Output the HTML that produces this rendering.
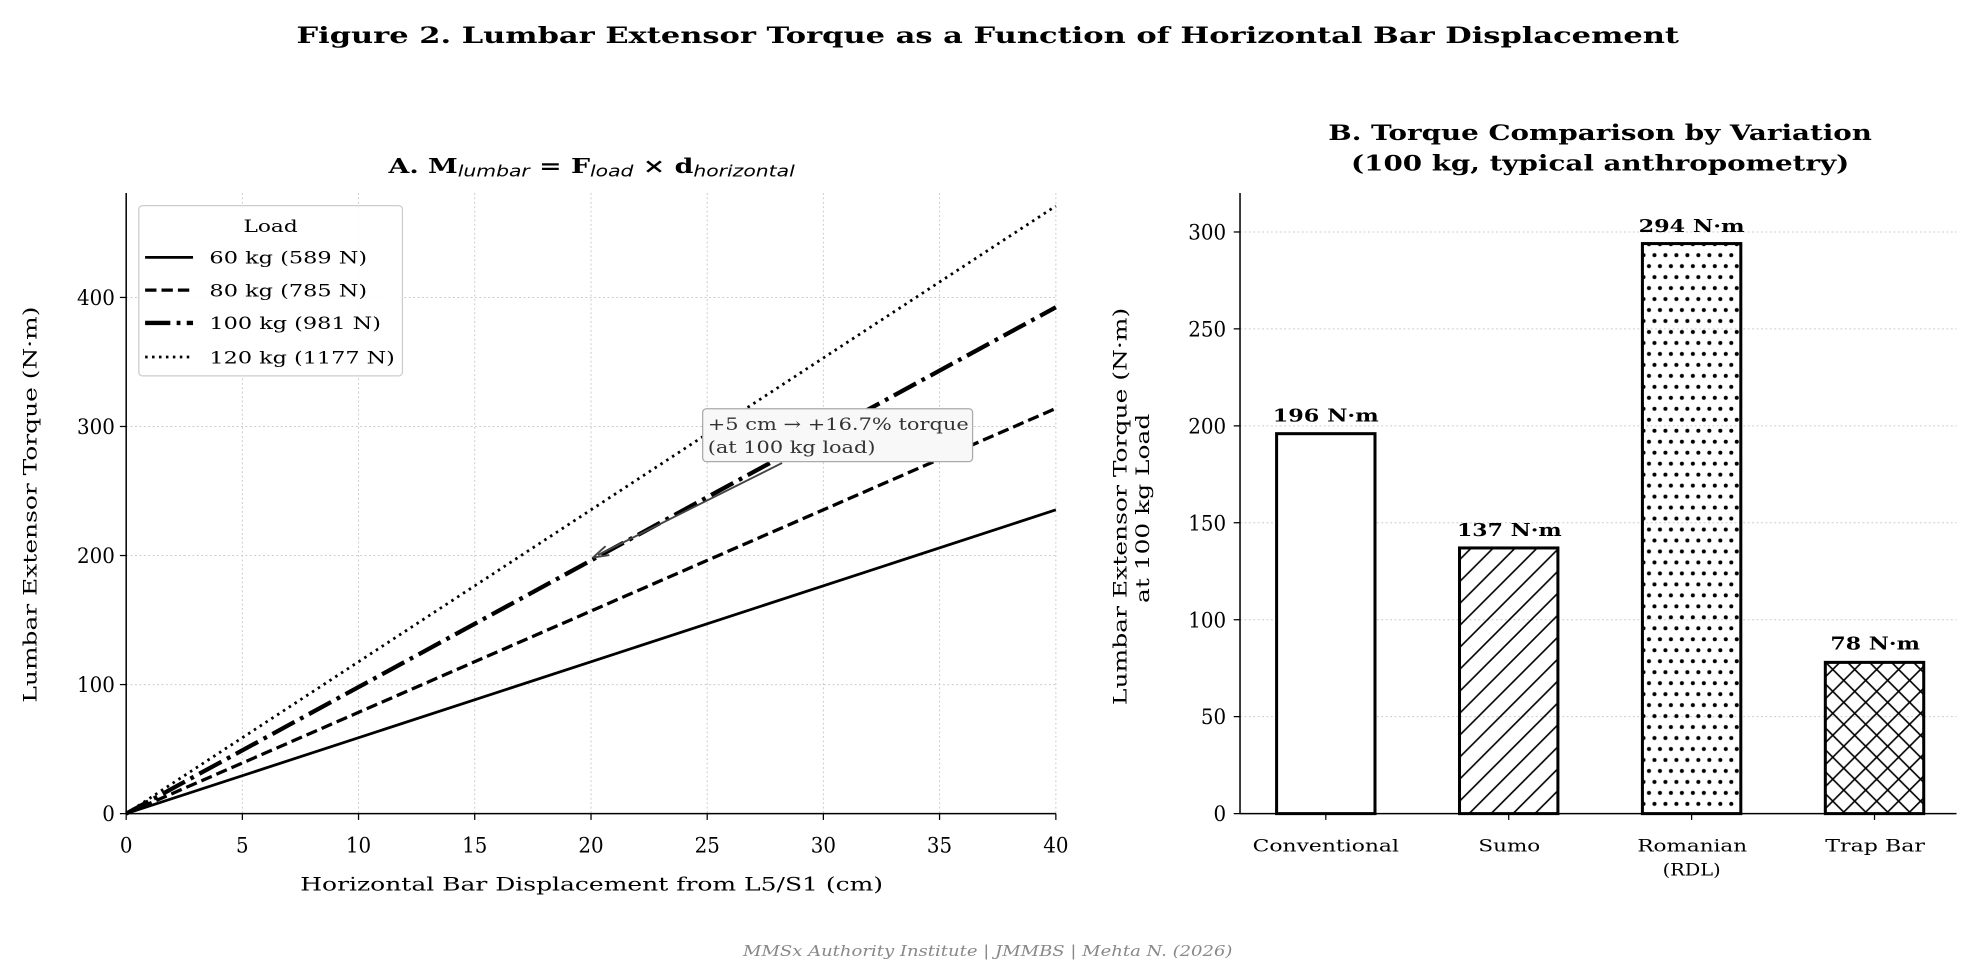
<!DOCTYPE html>
<html><head><meta charset="utf-8"><style>
html,body{margin:0;padding:0;background:#fff}
svg{display:block}
text{font-family:"DejaVu Serif","Liberation Serif",serif;fill:#000}
</style></head><body>
<svg width="1978" height="980" viewBox="0 0 1568 776.9" xmlns="http://www.w3.org/2000/svg">
<defs>
<pattern id="diag" patternUnits="userSpaceOnUse" width="17.4" height="17.4">
<path d="M-2,19.4 L19.4,-2 M-2,2 L2,-2 M15.4,19.4 L19.4,15.4" stroke="#000" stroke-width="1.3"/>
</pattern>
<pattern id="dots" patternUnits="userSpaceOnUse" width="8.7" height="17.4">
<circle cx="2.2" cy="2.2" r="1.6" fill="#000"/>
<circle cx="6.55" cy="10.9" r="1.6" fill="#000"/>
</pattern>
<pattern id="cross" patternUnits="userSpaceOnUse" width="17.4" height="17.4">
<path d="M-2,19.4 L19.4,-2 M-2,-2 L19.4,19.4" stroke="#000" stroke-width="1.3"/>
</pattern>
</defs>
<rect width="1568" height="777" fill="#fff"/>
<text x="235" y="34" font-size="18" font-weight="bold" textLength="1096" lengthAdjust="spacingAndGlyphs">Figure 2. Lumbar Extensor Torque as a Function of Horizontal Bar Displacement</text>

<g stroke="#ccc" stroke-width="0.8" stroke-dasharray="1.5,2">
<line x1="192.1" y1="153" x2="192.1" y2="645"/><line x1="284.2" y1="153" x2="284.2" y2="645"/>
<line x1="376.3" y1="153" x2="376.3" y2="645"/><line x1="468.5" y1="153" x2="468.5" y2="645"/>
<line x1="560.6" y1="153" x2="560.6" y2="645"/><line x1="652.7" y1="153" x2="652.7" y2="645"/>
<line x1="744.8" y1="153" x2="744.8" y2="645"/><line x1="837" y1="153" x2="837" y2="645"/>
<line x1="100" y1="542.7" x2="837" y2="542.7"/><line x1="100" y1="440.4" x2="837" y2="440.4"/>
<line x1="100" y1="338.1" x2="837" y2="338.1"/><line x1="100" y1="235.8" x2="837" y2="235.8"/>
</g>
<line x1="100" y1="645" x2="837" y2="404.2" stroke="#000" stroke-width="2.2"/>
<line x1="100" y1="645" x2="837" y2="323.8" stroke="#000" stroke-width="2.6" stroke-dasharray="9,4"/>
<line x1="100" y1="645" x2="837" y2="243.6" stroke="#000" stroke-width="3.4" stroke-dasharray="20,5,3,5"/>
<line x1="100" y1="645" x2="837" y2="163.3" stroke="#000" stroke-width="2.2" stroke-dasharray="2,3.5"/>
<g stroke="#000" stroke-width="1.2">
<line x1="100" y1="153" x2="100" y2="645"/><line x1="100" y1="645" x2="837" y2="645"/>
</g>
<g stroke="#000" stroke-width="1">
<line x1="100" y1="645" x2="100" y2="650"/><line x1="192.1" y1="645" x2="192.1" y2="650"/><line x1="284.2" y1="645" x2="284.2" y2="650"/><line x1="376.3" y1="645" x2="376.3" y2="650"/><line x1="468.5" y1="645" x2="468.5" y2="650"/><line x1="560.6" y1="645" x2="560.6" y2="650"/><line x1="652.7" y1="645" x2="652.7" y2="650"/><line x1="744.8" y1="645" x2="744.8" y2="650"/><line x1="837" y1="645" x2="837" y2="650"/>
<line x1="95" y1="645" x2="100" y2="645"/><line x1="95" y1="542.7" x2="100" y2="542.7"/><line x1="95" y1="440.4" x2="100" y2="440.4"/><line x1="95" y1="338.1" x2="100" y2="338.1"/><line x1="95" y1="235.8" x2="100" y2="235.8"/>
</g>
<g font-size="17" text-anchor="middle">
<text x="100" y="676" textLength="10" lengthAdjust="spacingAndGlyphs">0</text><text x="192.1" y="676" textLength="10" lengthAdjust="spacingAndGlyphs">5</text><text x="284.2" y="676" textLength="20" lengthAdjust="spacingAndGlyphs">10</text><text x="376.3" y="676" textLength="20" lengthAdjust="spacingAndGlyphs">15</text><text x="468.5" y="676" textLength="20" lengthAdjust="spacingAndGlyphs">20</text><text x="560.6" y="676" textLength="20" lengthAdjust="spacingAndGlyphs">25</text><text x="652.7" y="676" textLength="20" lengthAdjust="spacingAndGlyphs">30</text><text x="744.8" y="676" textLength="20" lengthAdjust="spacingAndGlyphs">35</text><text x="837" y="676" textLength="20" lengthAdjust="spacingAndGlyphs">40</text>
</g>
<g font-size="17" text-anchor="end">
<text x="91" y="651" textLength="10" lengthAdjust="spacingAndGlyphs">0</text><text x="91" y="548.7" textLength="30" lengthAdjust="spacingAndGlyphs">100</text><text x="91" y="446.4" textLength="30" lengthAdjust="spacingAndGlyphs">200</text><text x="91" y="344.1" textLength="30" lengthAdjust="spacingAndGlyphs">300</text><text x="91" y="241.8" textLength="30" lengthAdjust="spacingAndGlyphs">400</text>
</g>
<text x="238" y="706" font-size="14.5" textLength="462" lengthAdjust="spacingAndGlyphs">Horizontal Bar Displacement from L5/S1 (cm)</text>
<text transform="translate(29,557) rotate(-90)" font-size="14.5" textLength="314" lengthAdjust="spacingAndGlyphs">Lumbar Extensor Torque (N·m)</text>
<text x="308" y="137" font-size="16.5" font-weight="bold" textLength="322" lengthAdjust="spacingAndGlyphs">A. M<tspan font-size="12.5" font-weight="normal" font-style="italic" font-family="DejaVu Sans,sans-serif" dy="3">lumbar</tspan><tspan dy="-3"> = F</tspan><tspan font-size="12.5" font-weight="normal" font-style="italic" font-family="DejaVu Sans,sans-serif" dy="3">load</tspan><tspan dy="-3"> × d</tspan><tspan font-size="12.5" font-weight="normal" font-style="italic" font-family="DejaVu Sans,sans-serif" dy="3">horizontal</tspan></text>
<rect x="110" y="163" width="209" height="135" rx="3" fill="#fff" fill-opacity="0.9" stroke="#ccc" stroke-width="1"/>
<text x="193" y="184" font-size="13.5" textLength="43" lengthAdjust="spacingAndGlyphs">Load</text>
<line x1="115" y1="204" x2="153" y2="204" stroke="#000" stroke-width="2.2"/>
<line x1="115" y1="230" x2="153" y2="230" stroke="#000" stroke-width="2.6" stroke-dasharray="9,4"/>
<line x1="115" y1="256" x2="153" y2="256" stroke="#000" stroke-width="3.4" stroke-dasharray="20,5,3,5"/>
<line x1="115" y1="283" x2="153" y2="283" stroke="#000" stroke-width="2.2" stroke-dasharray="2,3.5"/>
<g font-size="13.5"><text x="166" y="209" textLength="125" lengthAdjust="spacingAndGlyphs">60 kg (589 N)</text><text x="166" y="235" textLength="125" lengthAdjust="spacingAndGlyphs">80 kg (785 N)</text><text x="166" y="261" textLength="136" lengthAdjust="spacingAndGlyphs">100 kg (981 N)</text><text x="166" y="288" textLength="147" lengthAdjust="spacingAndGlyphs">120 kg (1177 N)</text></g>
<line x1="620" y1="367" x2="474" y2="440" stroke="#444" stroke-width="1.5"/>
<path d="M470,442 L480,433 M470,442 L483,440" stroke="#444" stroke-width="1.5" fill="none"/>
<rect x="557" y="324" width="214" height="42" rx="3" fill="#f8f8f8" stroke="#aaa" stroke-width="1"/>
<g font-size="13.5"><text x="561" y="341" style="fill:#333" textLength="207" lengthAdjust="spacingAndGlyphs">+5 cm → +16.7% torque</text><text x="561" y="359" style="fill:#333" textLength="133" lengthAdjust="spacingAndGlyphs">(at 100 kg load)</text></g>

<g stroke="#ccc" stroke-width="0.8" stroke-dasharray="1.5,2">
<line x1="983" y1="568.1" x2="1551" y2="568.1"/><line x1="983" y1="491.3" x2="1551" y2="491.3"/><line x1="983" y1="414.4" x2="1551" y2="414.4"/><line x1="983" y1="337.6" x2="1551" y2="337.6"/><line x1="983" y1="260.7" x2="1551" y2="260.7"/><line x1="983" y1="183.9" x2="1551" y2="183.9"/>
</g>
<g stroke="#000" stroke-width="2.4">
<rect x="1012" y="343.8" width="78" height="301.2" fill="#fff"/>
<rect x="1157" y="434.4" width="78" height="210.6" fill="url(#diag)"/>
<rect x="1302" y="193.1" width="78" height="451.9" fill="url(#dots)"/>
<rect x="1447" y="525.1" width="78" height="119.9" fill="url(#cross)"/>
</g>
<g stroke="#000" stroke-width="1.2"><line x1="983" y1="153" x2="983" y2="645"/><line x1="983" y1="645" x2="1551" y2="645"/></g>
<g stroke="#000" stroke-width="1">
<line x1="978" y1="645" x2="983" y2="645"/><line x1="978" y1="568.1" x2="983" y2="568.1"/><line x1="978" y1="491.3" x2="983" y2="491.3"/><line x1="978" y1="414.4" x2="983" y2="414.4"/><line x1="978" y1="337.6" x2="983" y2="337.6"/><line x1="978" y1="260.7" x2="983" y2="260.7"/><line x1="978" y1="183.9" x2="983" y2="183.9"/>
<line x1="1051" y1="645" x2="1051" y2="650"/><line x1="1196" y1="645" x2="1196" y2="650"/><line x1="1341" y1="645" x2="1341" y2="650"/><line x1="1486" y1="645" x2="1486" y2="650"/>
</g>
<g font-size="17" text-anchor="end">
<text x="972" y="651" textLength="10" lengthAdjust="spacingAndGlyphs">0</text><text x="972" y="574.1" textLength="20" lengthAdjust="spacingAndGlyphs">50</text><text x="972" y="497.3" textLength="30" lengthAdjust="spacingAndGlyphs">100</text><text x="972" y="420.4" textLength="30" lengthAdjust="spacingAndGlyphs">150</text><text x="972" y="343.6" textLength="30" lengthAdjust="spacingAndGlyphs">200</text><text x="972" y="266.7" textLength="30" lengthAdjust="spacingAndGlyphs">250</text><text x="972" y="189.9" textLength="30" lengthAdjust="spacingAndGlyphs">300</text>
</g>
<g font-size="14" font-weight="bold">
<text x="1009" y="334" textLength="84" lengthAdjust="spacingAndGlyphs">196 N·m</text><text x="1155" y="425" textLength="83" lengthAdjust="spacingAndGlyphs">137 N·m</text><text x="1299" y="184" textLength="84" lengthAdjust="spacingAndGlyphs">294 N·m</text><text x="1451" y="515" textLength="71" lengthAdjust="spacingAndGlyphs">78 N·m</text>
</g>
<g font-size="13.5">
<text x="993" y="675" textLength="116" lengthAdjust="spacingAndGlyphs">Conventional</text><text x="1172" y="675" textLength="49" lengthAdjust="spacingAndGlyphs">Sumo</text><text x="1298" y="675" textLength="87" lengthAdjust="spacingAndGlyphs">Romanian</text><text x="1318" y="694" textLength="46" lengthAdjust="spacingAndGlyphs">(RDL)</text><text x="1447" y="675" textLength="79" lengthAdjust="spacingAndGlyphs">Trap Bar</text>
</g>
<text transform="translate(893,559) rotate(-90)" font-size="14.5" textLength="315" lengthAdjust="spacingAndGlyphs">Lumbar Extensor Torque (N·m)</text>
<text transform="translate(911,478) rotate(-90)" font-size="14.5" textLength="150" lengthAdjust="spacingAndGlyphs">at 100 kg Load</text>
<text x="1053" y="111" font-size="17" font-weight="bold" textLength="431" lengthAdjust="spacingAndGlyphs">B. Torque Comparison by Variation</text>
<text x="1071" y="135" font-size="17" font-weight="bold" textLength="395" lengthAdjust="spacingAndGlyphs">(100 kg, typical anthropometry)</text>
<text x="589" y="758" font-size="11.5" font-style="italic" style="fill:#888" textLength="388" lengthAdjust="spacingAndGlyphs">MMSx Authority Institute | JMMBS | Mehta N. (2026)</text>
</svg>
</body></html>
